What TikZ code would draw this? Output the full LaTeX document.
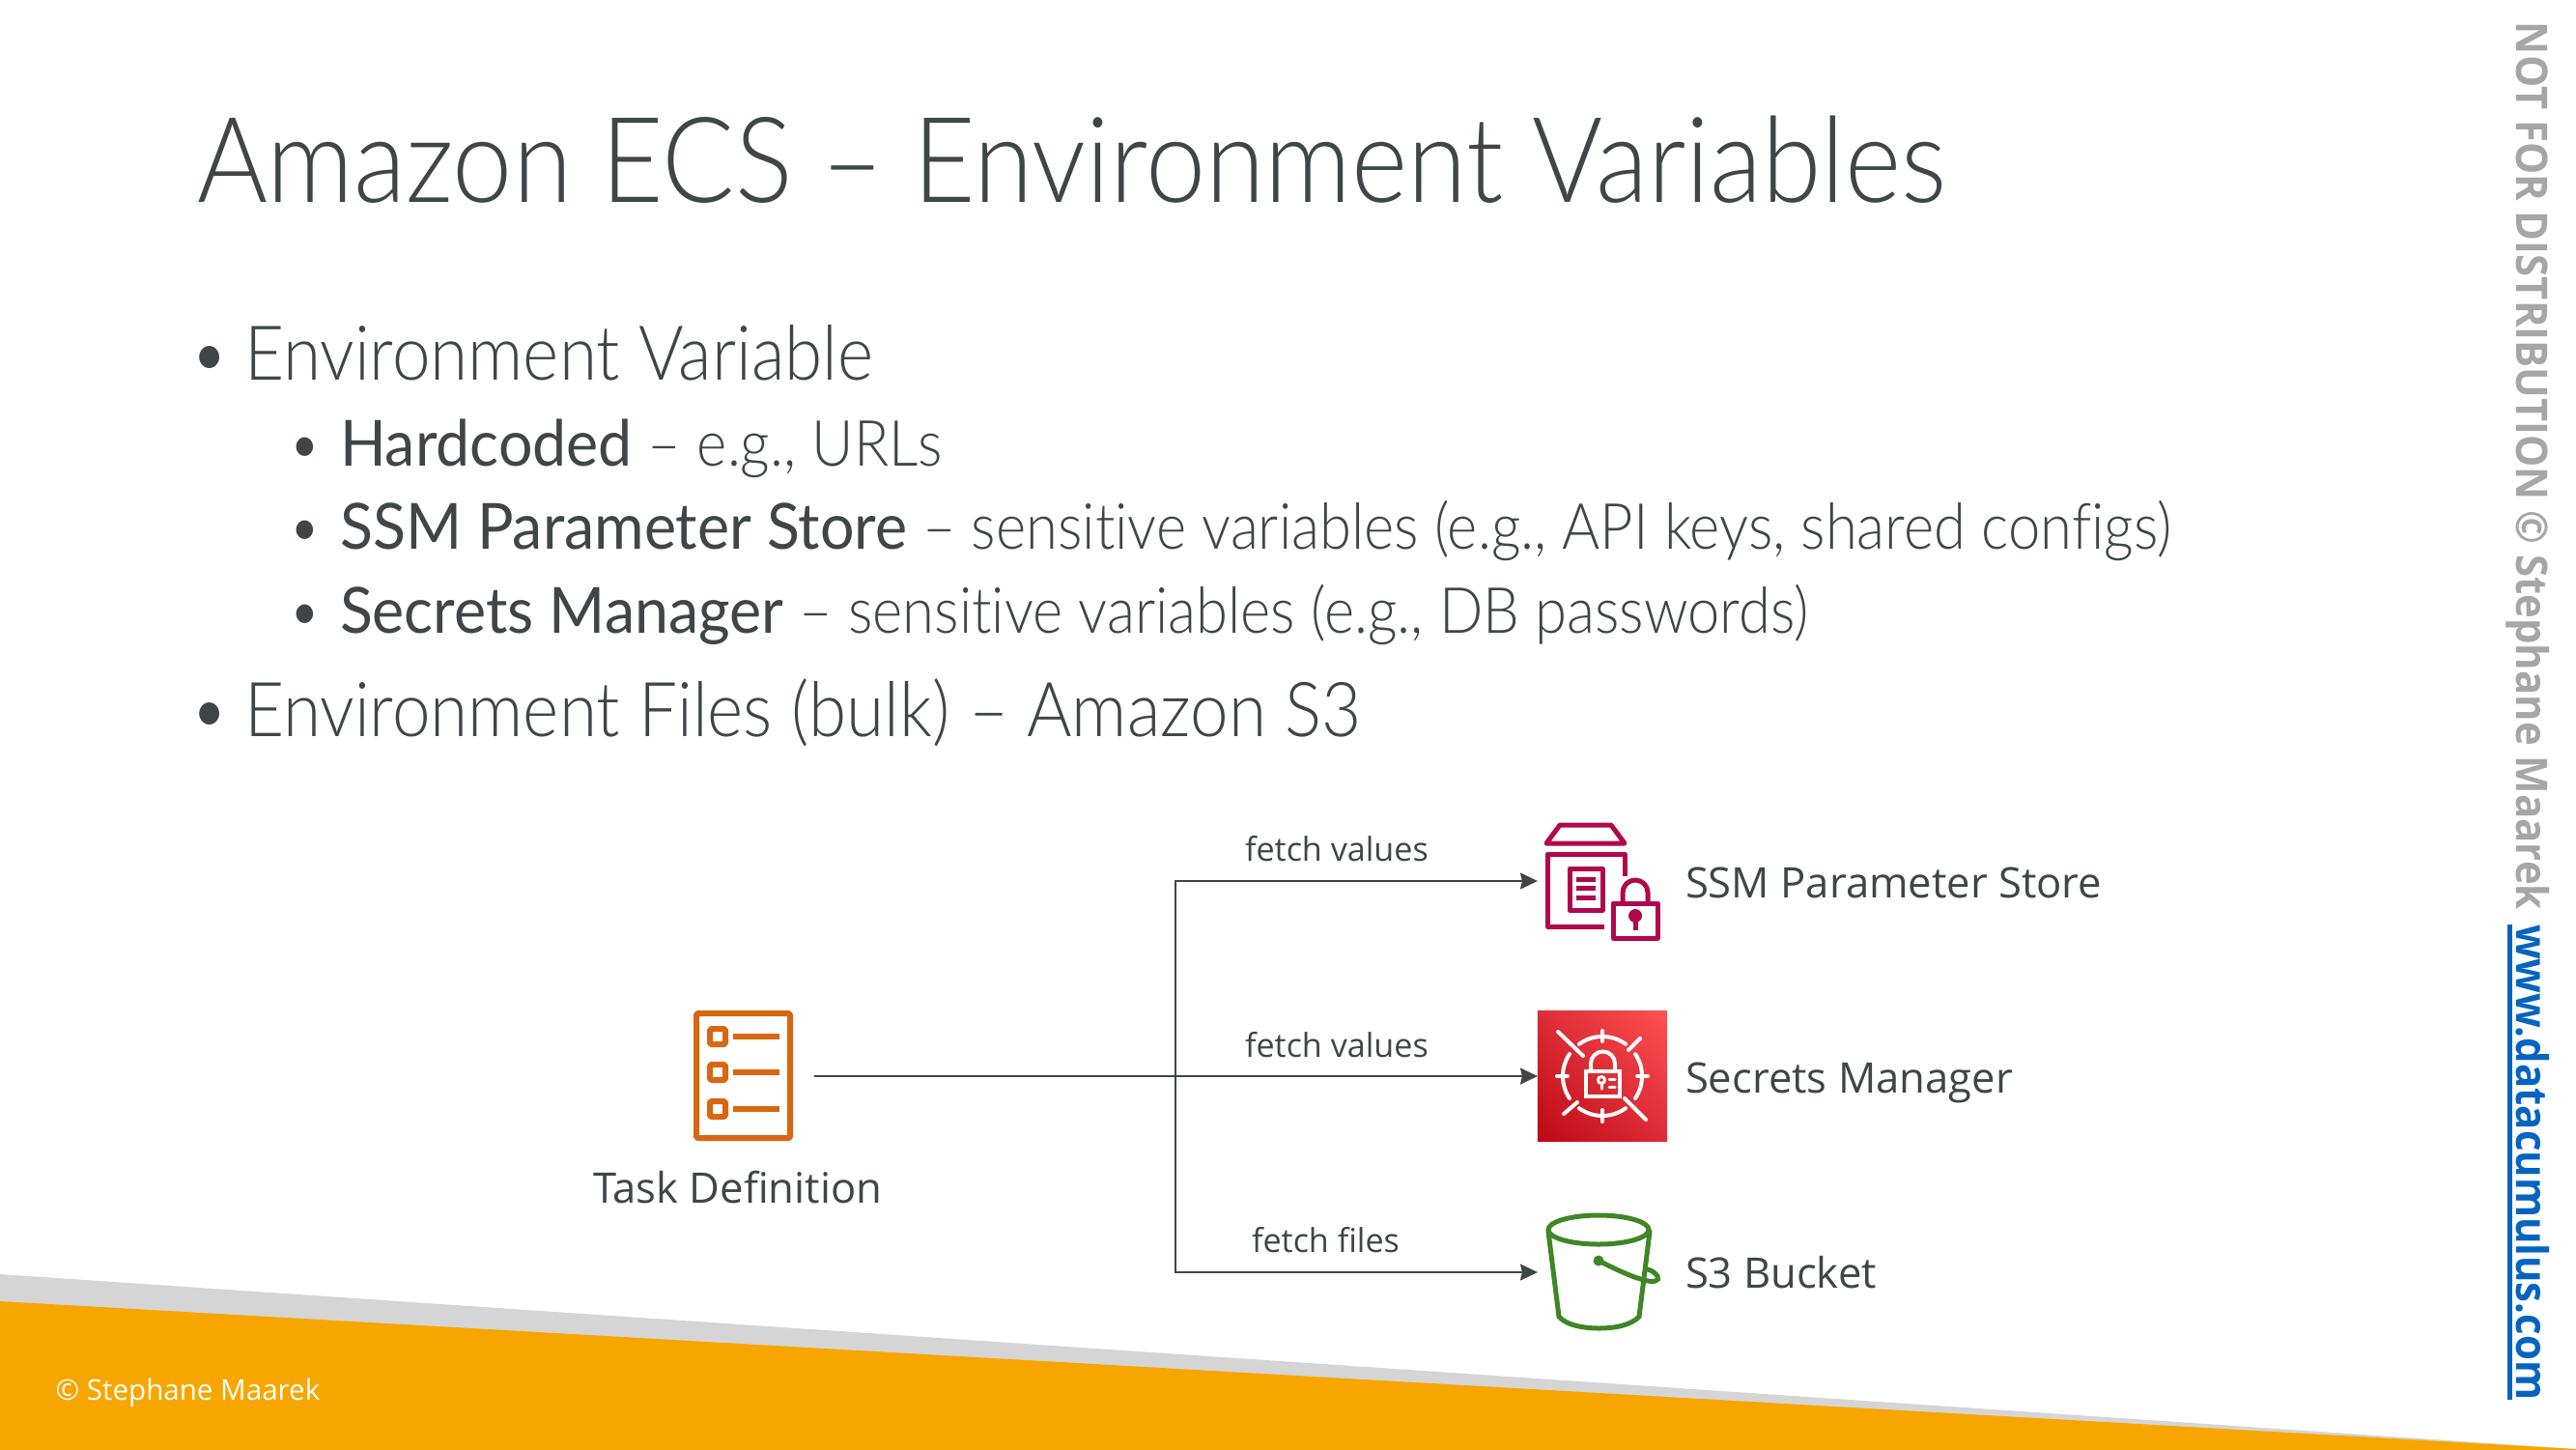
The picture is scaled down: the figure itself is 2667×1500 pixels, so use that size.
\documentclass[tikz,border=0pt]{standalone}
\usepackage{fontspec}
\setmainfont{Lato Light}[BoldFont=Lato,FakeStretch=.906,BoldFeatures={FakeStretch=.95},Ligatures=NoCommon]
\newfontfamily\labelfont{Open Sans}
\newfontfamily\sidefont{Open Sans}[FakeStretch=.93]
\usetikzlibrary{arrows.meta,calc,shadings}
\definecolor{txtgray}{HTML}{404547}
\definecolor{markgray}{HTML}{A6A6A6}
\definecolor{linkblue}{HTML}{0563C1}
\definecolor{bandgray}{HTML}{D5D5D5}
\definecolor{bandorange}{HTML}{F7A600}
\definecolor{taskorange}{HTML}{D86613}
\definecolor{ssmred}{HTML}{B0084D}
\definecolor{bucketgreen}{HTML}{3F8624}
\definecolor{secdark}{HTML}{BD0816}
\definecolor{secmid}{HTML}{DD2C36}
\definecolor{seclight}{HTML}{FF5252}
\tikzset{
  txt/.style={anchor=base west,inner sep=0pt,outer sep=0pt,text=txtgray},
  big/.style={txt,font=\fontsize{22.3}{28}\selectfont},
  small/.style={txt,font=\fontsize{18.75}{24}\selectfont},
  lbl/.style={txt,font=\labelfont\fontsize{12.4}{14}\selectfont},
  edgelbl/.style={txt,font=\labelfont\fontsize{9.7}{12}\selectfont},
  slot/.style={inner sep=0pt,outer sep=0pt,minimum width=1.34cm,minimum height=1.34cm},
  sidetxt/.style={anchor=base west,inner sep=0pt,outer sep=0pt,rotate=-90,font=\sidefont\bfseries\fontsize{12.8}{15}\selectfont},
  ssmline/.style={draw=ssmred,line width=.05cm,line join=round},
  taskline/.style={draw=taskorange,line width=.06cm,line join=round},
  bucketline/.style={draw=bucketgreen,line width=.05cm,line cap=round},
  secline/.style={draw=white,line width=.04cm,line cap=round},
  conn/.style={draw=txtgray,line width=.017cm,-{Stealth[length=.18cm,width=.17cm,inset=.02cm]}}
}
\begin{document}
\begin{tikzpicture}[x=.01cm,y=-.01cm]
  \useasboundingbox (0,0) rectangle (2667,1500);
  % bottom band
  \fill[bandgray] (0,1319) -- (2667,1500) -- (2667,1505) -- (0,1505) -- cycle;
  \fill[bandorange] (0,1347) -- (2667,1500) -- (2667,1505) -- (0,1505) -- cycle;
  \node[anchor=base west,inner sep=0pt,text=white,font=\labelfont\fontsize{8.4}{10}\selectfont] (footer) at (57,1449) {© Stephane Maarek};

  % slide text
  \node[txt,font=\fontsize{35}{42}\selectfont] (title) at (204,209) {Amazon ECS – Environment Variables};
  \node[big] (dot1) at (196,393) {•};
  \node[big] (env) at (253,393) {Environment Variable};
  \node[small] (dot2) at (298,482) {•};
  \node[small] (hard) at (352,482) {\textbf{Hardcoded} – e.g., URLs};
  \node[small] (dot3) at (298,568) {•};
  \node[small] (param) at (352,568) {\textbf{SSM Parameter Store} – sensitive variables (e.g., API keys, shared configs)};
  \node[small] (dot4) at (298,655) {•};
  \node[small] (secr) at (352,655) {\textbf{Secrets Manager} – sensitive variables (e.g., DB passwords)};
  \node[big] (dot5) at (196,762) {•};
  \node[big] (files) at (253,762) {Environment Files (bulk) – Amazon S3};

  % side text
  \node[sidetxt,text=markgray] (notice) at (2605,23) {NOT FOR DISTRIBUTION © Stephane Maarek};
  \node[sidetxt,text=linkblue] (site) at (2605,957) {www.datacumulus.com};
  \draw[linkblue,line width=.05cm] ($(site.base west)+(-7,0)$) -- ($(site.base east)+(-7,0)$);

  % icon slots
  \node[inner sep=0pt,outer sep=0pt,minimum width=1.03cm,minimum height=1.35cm] (task) at (769.5,1113.5) {};
  \node[slot] (ssm) at (1659,912) {};
  \node[slot,shade,lower left=secdark,upper right=seclight,upper left=secmid,lower right=secmid] (secrets) at (1659,1114) {};
  \node[slot] (bucket) at (1659,1317) {};

  % task definition
  \draw[taskline,rounded corners=.02cm] (721,1049) rectangle (818,1178);
  \foreach \y in {1073,1110,1148} {
    \draw[taskline,rounded corners=.02cm] (735,\y-8) rectangle (751,\y+8);
    \draw[taskline] (759,\y) -- (807,\y);
  }
  \node[lbl] (tasklbl) at (614,1245) {Task Definition};

  % ssm parameter store
  \draw[ssmline] (1615,854) -- (1668,854) -- (1682,873) -- (1601,873) -- cycle;
  \draw[ssmline] (1682,907) -- (1682,884) -- (1602,884) -- (1602,959) -- (1661,959);
  \draw[ssmline] (1625,899) rectangle (1659,942);
  \foreach \y in {910,919,929} \draw[ssmline] (1632,\y) -- (1652,\y);
  \draw[ssmline] (1670,935) rectangle (1716,971);
  \draw[ssmline] (1680,935) -- (1680,924) arc[start angle=180,end angle=0,radius=.13cm] -- (1706,935);
  \fill[ssmred] (1693,948) circle[radius=.07cm];
  \draw[ssmline] (1693,950) -- (1693,963);
  \node[lbl] (ssmlbl) at (1745,929) {SSM Parameter Store};

  % secrets manager
  \foreach \a/\b in {54/126,146/214,234/306,-34/34}
    \draw[secline] ([shift={(\a:.41cm)}]secrets.center) arc[start angle=\a,end angle=\b,radius=.41cm];
  \draw[secline] (1659,1067) -- (1659,1078) (1659,1149) -- (1659,1161);
  \draw[secline] (1612,1114) -- (1623,1114) (1695,1114) -- (1706,1114);
  \draw[secline] (1613,1068) -- (1639,1093) (1682,1137) -- (1704,1159);
  \draw[secline] (1686,1087) -- (1698,1075) (1619,1153) -- (1633,1141);
  \draw[secline,line cap=butt,line join=miter] (1642,1109) rectangle (1677,1135);
  \draw[secline,line cap=butt] (1647,1109) -- (1647,1101) arc[start angle=180,end angle=0,radius=.125cm] -- (1672,1109);
  \draw[secline,line width=.03cm] (1658,1118) circle[radius=.035cm];
  \draw[secline,line width=.03cm] (1658,1121) -- (1658,1127);
  \draw[secline,line width=.03cm] (1666,1117) -- (1672,1117) (1666,1125) -- (1672,1125);
  \node[lbl] (seclbl) at (1745,1131) {Secrets Manager};

  % s3 bucket
  \draw[bucketline] (1655,1273) ellipse[x radius=.52cm,y radius=.15cm];
  \draw[bucketline] (1603,1275) -- (1614,1363) .. controls (1622,1372) and (1640,1375) .. (1655,1375) .. controls (1672,1375) and (1688,1372) .. (1697,1363) -- (1708,1275);
  \fill[bucketgreen] (1655,1305) circle[radius=.055cm];
  \draw[bucketline] (1655,1305) .. controls (1675,1315) and (1690,1322) .. (1702,1325) .. controls (1712,1328) and (1719,1326) .. (1716,1321) .. controls (1714,1318) and (1710,1315) .. (1706,1314);
  \node[lbl] (s3lbl) at (1745,1333) {S3 Bucket};

  % connectors
  \coordinate (taskout) at (843,1114);
  \coordinate (fork) at (1217,1114);
  \draw[conn] (taskout) -- (secrets.west);
  \draw[conn] (fork) |- (ssm.west);
  \draw[conn] (fork) |- (bucket.west);
  \node[edgelbl] (fetch1) at (1289,891) {fetch values};
  \node[edgelbl] (fetch2) at (1289,1094) {fetch values};
  \node[edgelbl] (fetch3) at (1296,1296) {fetch files};
\end{tikzpicture}
\end{document}
